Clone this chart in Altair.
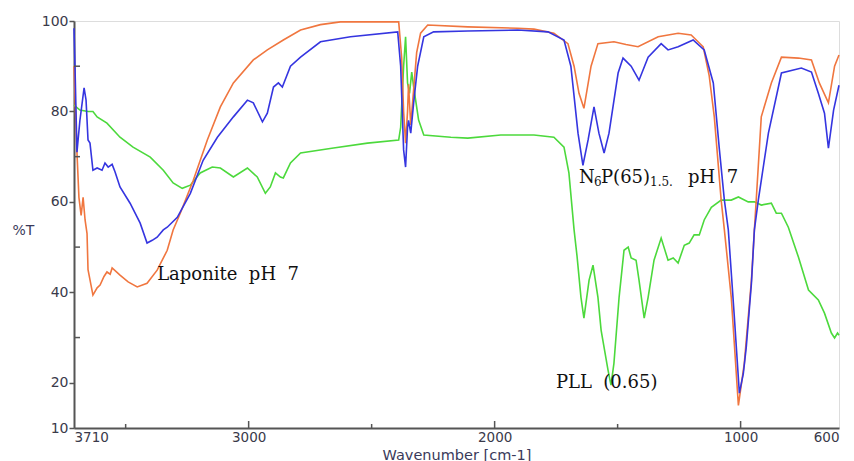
import altair as alt
import pandas as pd

# ---------------- data ----------------
lap_w = [3710, 3698, 3690, 3681, 3673, 3665, 3657, 3653, 3633, 3616, 3604, 3588, 3576, 3563, 3555,
         3523, 3490, 3453, 3413, 3372, 3331, 3307, 3278, 3225, 3168, 3115, 3062, 2981, 2924, 2859,
         2789, 2708, 2627, 2390, 2378, 2370, 2362, 2354, 2350, 2341, 2329, 2317, 2301, 2272, 2109,
         1906, 1840, 1759, 1702, 1677, 1657, 1637, 1608, 1580, 1515, 1466, 1417, 1335, 1254, 1201,
         1152, 1128, 1107, 1079, 1066, 1038, 1009, 985, 956, 944, 928, 916, 875, 834, 765, 712,
         680, 643, 618, 600]
lap_v = [90, 71, 61, 57, 61, 56, 53, 45, 39.4, 41, 41.6, 43.5, 44.5, 44, 45.4,
         43.8, 42.3, 41.2, 42, 44.9, 49.3, 53.8, 57.5, 64.8, 73.7, 81, 86.3, 91.4, 93.6, 95.8,
         98, 99.2, 99.8, 99.8, 92, 80, 73, 80, 86, 77, 85, 93, 97.3, 99.1, 98.7,
         98.4, 98.2, 97.3, 95, 90, 84, 80.7, 90, 95, 95.4, 94.8, 94.3, 96.5, 97.3, 96.9,
         94.3, 88, 78.8, 60.4, 53.8, 38.9, 15, 24.3, 42.7, 53.8, 68, 78.8, 86.3, 92, 91.8, 91.4,
         86.3, 81.9, 90, 92.5]

n6p_w = [3710, 3706, 3698, 3686, 3669, 3661, 3653, 3645, 3633, 3616, 3596, 3584, 3571, 3555, 3543,
         3523, 3482, 3441, 3413, 3392, 3372, 3347, 3331, 3290, 3237, 3185, 3127, 3062, 3005, 2981,
         2944, 2924, 2899, 2879, 2863, 2830, 2789, 2708, 2586, 2394, 2382, 2370, 2362, 2354, 2350,
         2341, 2329, 2313, 2288, 2248, 2109, 1906, 1783, 1718, 1690, 1661, 1641, 1620, 1596, 1576,
         1555, 1535, 1498, 1478, 1445, 1413, 1376, 1323, 1295, 1254, 1193, 1148, 1111, 1087, 1066,
         1050, 1026, 1005, 989, 977, 956, 944, 928, 887, 834, 753, 712, 684, 659, 643, 622, 600]
n6p_v = [98.4, 90, 71, 78, 85.2, 82.5, 73.7, 73, 67, 67.5, 67, 68.6, 67.7, 68.3, 66.6,
         63.3, 59.7, 55.3, 50.9, 51.5, 52.2, 53.8, 54.4, 56.6, 61.9, 69.2, 74.3, 78.8, 82.5, 81.9,
         77.7, 79.6, 85.4, 86.3, 85.4, 90, 92, 95.4, 96.5, 97.6, 90, 71.5, 67.7, 76.5, 78,
         75.2, 82, 90, 96.5, 97.6, 97.8, 98, 97.6, 95.8, 90, 75.2, 68.1, 73.7, 81, 75.2,
         70.8, 75.2, 88.5, 91.8, 90, 86.9, 92, 95, 93.6, 94.3, 95.8, 93.6, 86.3, 72, 60.4,
         53.8, 35, 17.7, 22, 27.9, 42, 53.8, 60.4, 75.2, 88.5, 89.6, 88.7, 84, 79.6, 71.9, 80.3, 85.8]

pll_w = [3710, 3686, 3653, 3633, 3616, 3576, 3523, 3470, 3400, 3347, 3307, 3270, 3237, 3197, 3148,
         3115, 3062, 3005, 2965, 2932, 2912, 2891, 2871, 2859, 2830, 2789, 2655, 2517, 2390, 2382,
         2370, 2362, 2354, 2346, 2337, 2329, 2309, 2288, 2178, 2109, 1975, 1840, 1759, 1718, 1698,
         1677, 1665, 1649, 1637, 1616, 1600, 1580, 1567, 1539, 1527, 1515, 1494, 1474, 1457, 1445,
         1425, 1413, 1392, 1376, 1352, 1323, 1295, 1274, 1254, 1229, 1209, 1189, 1168, 1148, 1119,
         1079, 1038, 1009, 969, 944, 916, 875, 855, 834, 806, 765, 724, 684, 659, 631, 618, 606, 600]
pll_v = [81.4, 80.3, 80, 80, 78.8, 77.4, 74.3, 72.1, 69.9, 67, 64.2, 63, 63.7, 66.4, 67.7,
         67.5, 65.5, 67.5, 65.5, 61.9, 63.3, 66.4, 65.5, 65.3, 68.6, 70.8, 71.9, 73, 73.7, 76.5,
         90, 96.5, 86.3, 84, 88.7, 85.4, 78.1, 74.8, 74.3, 74.1, 74.8, 74.8, 74.3, 72.1, 66.4,
         53.8, 48, 38.9, 34.3, 42.7, 46, 38.9, 31.6, 22.8, 19.5, 24.3, 38.9, 49.3, 50, 47.6,
         47.1, 42.7, 34.3, 38.9, 47.1, 52, 47.1, 47.6, 46.5, 50.4, 50.9, 52.7, 52.7, 56, 58.8,
         60.4, 60.4, 61.1, 60, 60, 59.3, 59.7, 57.5, 57.5, 54.4, 47.8, 40.5, 38.3, 35.4, 31, 29.9, 31, 30.5]

series_names = ["PLL (0.65)", "Laponite pH 7", "N6P(65)1.5 pH 7"]
series_colors = ["#4cd93c", "#f0763f", "#3535e0"]

x_label_values = [3710, 3000, 2000, 1000, 600]
x_major_ticks = [3000, 2000, 1000]
x_minor_ticks = [3500, 2500, 1500]
y_label_values = [10, 20, 40, 60, 80, 100]
y_minor_ticks = [30, 50, 70, 90]

# ---------------- build tables ----------------
frames = []
for order, (name, ws, vs) in enumerate([(series_names[0], pll_w, pll_v),
                                        (series_names[1], lap_w, lap_v),
                                        (series_names[2], n6p_w, n6p_v)]):
    frames.append(pd.DataFrame({"w": ws, "v": vs, "series": name, "ord": order}))
df = pd.concat(frames, ignore_index=True)

W, H = 765, 407
xscale = alt.Scale(domain=[600, 3710], reverse=True, nice=False, zero=False)
yscale = alt.Scale(domain=[10, 100], nice=False, zero=False)

axis_common = dict(labelFont="DejaVu Sans", labelColor="#3a3a4a",
                   titleFont="DejaVu Sans", titleFontWeight="normal", titleColor="#3a3a5a",
                   domainColor="#555555", domainWidth=2, grid=False,
                   tickColor="#555555", labelOverlap=False)

lines = alt.Chart(df).mark_line(strokeWidth=1.6).encode(
    x=alt.X("w:Q", scale=xscale,
            axis=alt.Axis(values=x_label_values, format="d", title="Wavenumber [cm-1]",
                          titleFontSize=14.5, titleY=31, titleBaseline="alphabetic",
                          labelFontSize=13.5, ticks=False, labelPadding=2, **axis_common)),
    y=alt.Y("v:Q", scale=yscale,
            axis=alt.Axis(values=y_label_values, title="%T", titleAngle=0, titleFontSize=14,
                          titleX=-62, titleY=209, titleAlign="left", titleBaseline="middle",
                          labelFontSize=14, tickSize=5, tickWidth=1.5, labelPadding=1,
                          **axis_common)),
    color=alt.Color("series:N", scale=alt.Scale(domain=series_names, range=series_colors),
                    legend=None),
    order=alt.Order("ord:Q"),
    detail="series:N",
)

xmaj = alt.Chart(pd.DataFrame({"w": x_major_ticks})).mark_rule(color="#555555", strokeWidth=1.5).encode(
    x=alt.X("w:Q", scale=xscale), y=alt.value(H), y2=alt.value(H - 7))
xmin = alt.Chart(pd.DataFrame({"w": x_minor_ticks})).mark_rule(color="#555555", strokeWidth=1.5).encode(
    x=alt.X("w:Q", scale=xscale), y=alt.value(H), y2=alt.value(H - 4))
ymin = alt.Chart(pd.DataFrame({"v": y_minor_ticks})).mark_rule(color="#555555", strokeWidth=1.5).encode(
    y=alt.Y("v:Q", scale=yscale), x=alt.value(0), x2=alt.value(6))

def label(text, w, v, size=18, dx=0, dy=0):
    return alt.Chart(pd.DataFrame({"w": [w], "v": [v], "t": [text]})).mark_text(
        font="DejaVu Serif", fontSize=size, align="left", baseline="middle",
        color="#111111", dx=dx, dy=dy).encode(
        x=alt.X("w:Q", scale=xscale), y=alt.Y("v:Q", scale=yscale), text="t:N")

labels = [
    label("Laponite\u00a0 pH\u00a0 7", 3372, 43.8),
    label("PLL\u00a0 (0.65)", 1751, 20),
    label("N", 1657, 65.3, dx=0),
    label("6", 1657, 65.3, size=12, dx=15, dy=4),
    label("P(65)", 1657, 65.3, dx=22),
    label("1.5.", 1657, 65.3, size=12, dx=71, dy=4),
    label("pH\u00a0 7", 1657, 65.3, dx=109),
]

chart = alt.layer(lines, xmaj, xmin, ymin, *labels).properties(
    width=W, height=H,
    autosize=alt.AutoSizeParams(type="none"),
    padding={"left": 66, "top": 13, "right": 7, "bottom": 33},
).configure_view(stroke="#b0b0b0", strokeWidth=1.5).configure(background="white")

chart.save("out.html", embed_options={"renderer": "svg", "actions": False})
